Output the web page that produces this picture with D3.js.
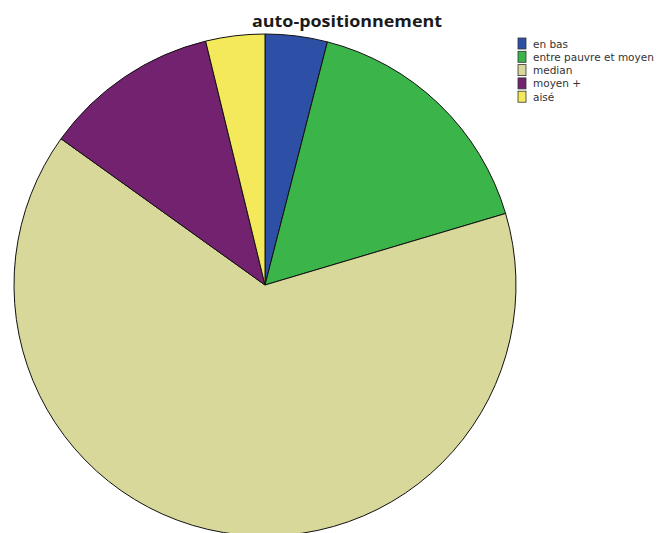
<!DOCTYPE html>
<html>
<head>
<meta charset="utf-8">
<script src="https://cdn.jsdelivr.net/npm/d3@7"></script>
<style>
  body { margin: 0; background: #fff; }
  svg { display: block; }
</style>
</head>
<body>
<svg id="chart" width="662" height="533"></svg>
<script>
/* data (percent) */
var categories = ["en bas", "entre pauvre et moyen", "median", "moyen +", "aisé"];
var values = [4.0, 16.4, 64.5, 11.3, 3.8];
var colours = ["#2e4fa6", "#3bb54a", "#d9d89b", "#73226f", "#f4e95a"];

var svg = d3.select("#chart");

// pie centre and radii (slightly wider than tall), bottom runs off the page
var cx = 265, cy = 285, rx = 251, ry = 251, r = 100;

var pie = d3.pie().sort(null).value(function(d) { return d; });
var arc = d3.arc().innerRadius(0).outerRadius(r);

var g = svg.append("g")
  .attr("transform", "translate(" + cx + "," + cy + ") scale(" + (rx / r) + "," + (ry / r) + ")");

g.selectAll("path")
  .data(pie(values))
  .enter()
  .append("path")
    .attr("d", arc)
    .attr("fill", function(d, i) { return colours[i]; })
    .attr("stroke", "#111")
    .attr("stroke-width", 1)
    .style("vector-effect", "non-scaling-stroke");

/* title */
svg.append("text")
  .attr("x", 347)
  .attr("y", 27)
  .attr("text-anchor", "middle")
  .attr("font-family", "Open Sans, sans-serif")
  .attr("font-weight", "bold")
  .attr("font-size", 16)
  .attr("fill", "#1a1a1a")
  .attr("textLength", 190)
  .attr("lengthAdjust", "spacingAndGlyphs")
  .text("auto-positionnement");

/* legend */
var legend = svg.append("g").attr("transform", "translate(518,38)");
var rows = legend.selectAll("g")
  .data(categories)
  .enter()
  .append("g")
    .attr("transform", function(d, i) { return "translate(0," + (i * 13.3) + ")"; });

rows.append("rect")
  .attr("width", 8)
  .attr("height", 11)
  .attr("fill", function(d, i) { return colours[i]; })
  .attr("stroke", "#333")
  .attr("stroke-width", 0.8);

rows.append("text")
  .attr("x", 15)
  .attr("y", 9.5)
  .attr("font-family", "DejaVu Sans, sans-serif")
  .attr("font-size", 10.5)
  .attr("fill", "#333")
  .text(function(d) { return d; });
</script>
</body>
</html>
